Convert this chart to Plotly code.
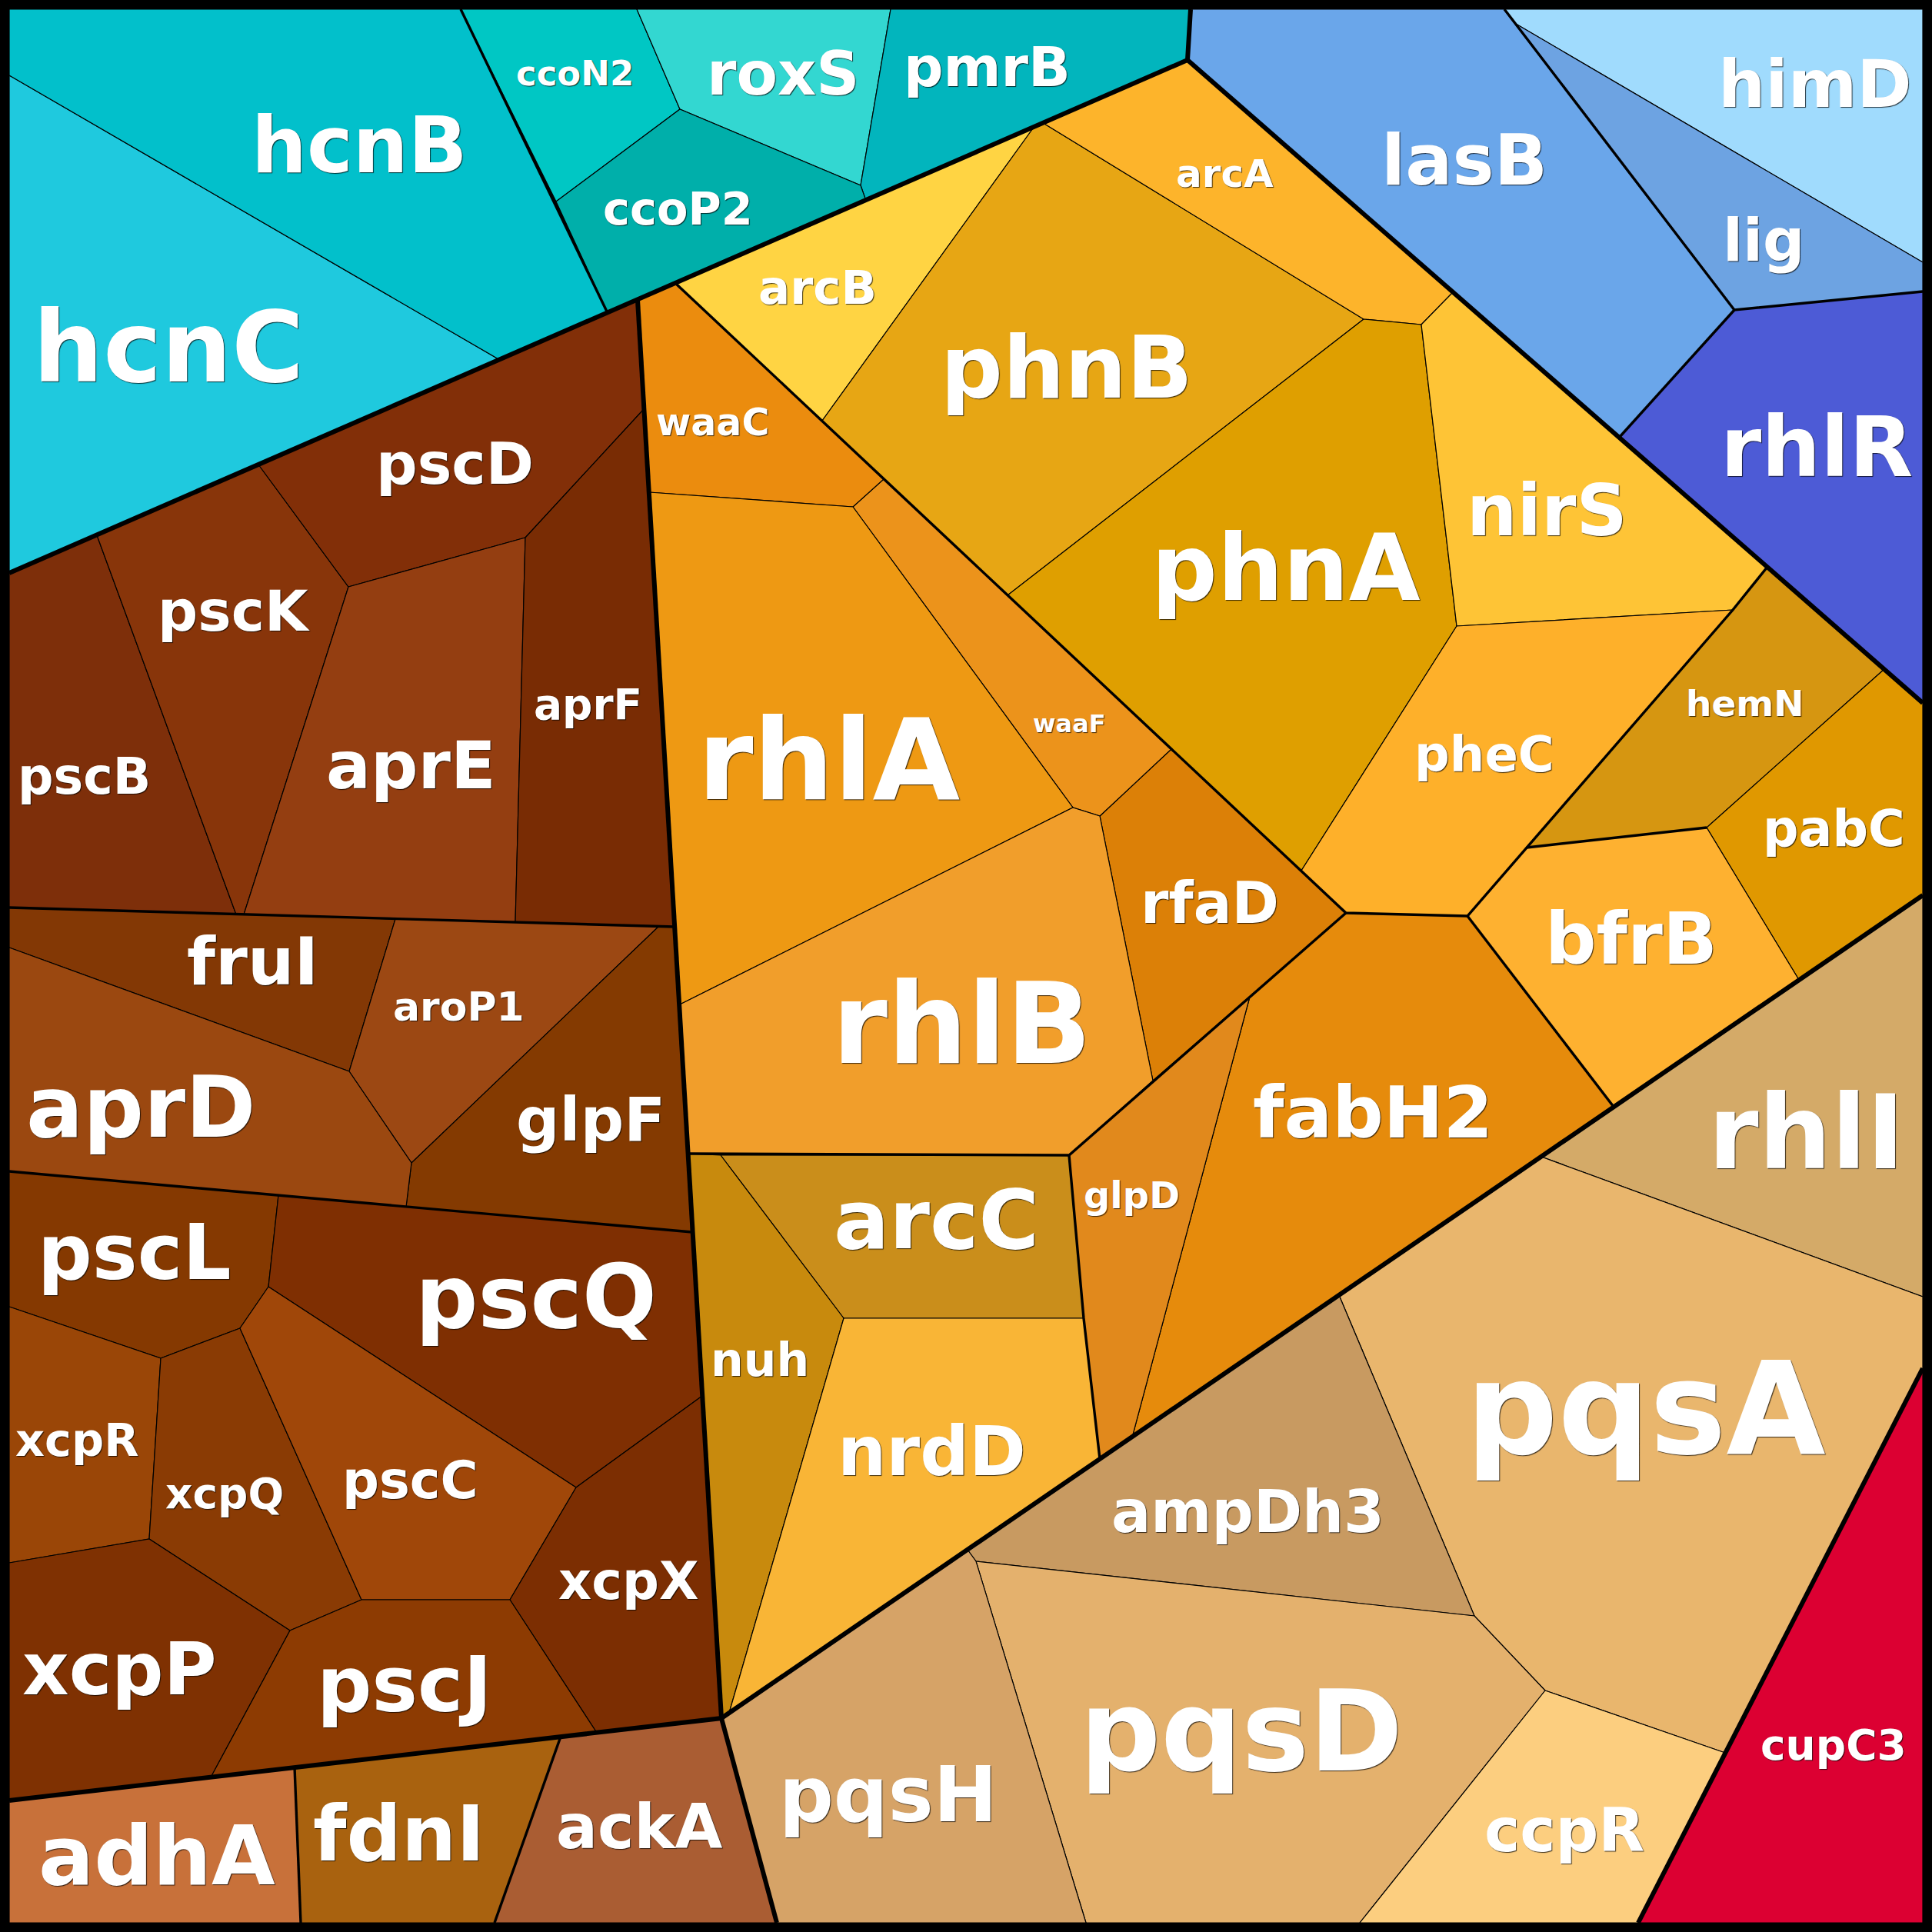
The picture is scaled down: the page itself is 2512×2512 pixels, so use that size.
import plotly.graph_objects as go

# ---- categories (genes) ----
genes = ["hcnC", "hcnB", "ccoN2", "roxS", "pmrB", "ccoP2",
         "lasB", "himD", "lig", "rhlR",
         "arcB", "phnB", "arcA", "phnA", "nirS", "pheC", "hemN", "pabC", "bfrB",
         "fabH2", "rfaD", "glpD", "waaF", "waaC", "rhlA", "rhlB", "arcC", "nuh", "nrdD",
         "pscB", "pscK", "pscD", "aprE", "aprF", "fruI", "aroP1", "glpF", "aprD",
         "pscL", "pscQ", "xcpR", "xcpQ", "pscC", "xcpX", "xcpP", "pscJ",
         "adhA", "fdnI", "ackA",
         "rhlI", "pqsA", "ampDh3", "pqsD", "pqsH", "ccpR", "cupC3"]

# ---- cell geometry (pixel space of the 2512 canvas) ----
cells = {
    "hcnC": [(12, 98), (650, 468), (12, 745)],
    "hcnB": [(12, 12), (599, 12), (790, 407), (650, 468), (12, 98)],
    "ccoN2": [(599, 12), (828, 12), (884, 142), (723, 262)],
    "ccoP2": [(723, 262), (884, 142), (1119, 241), (1126, 261), (790, 407)],
    "roxS": [(828, 12), (1158, 12), (1119, 241), (884, 142)],
    "pmrB": [(1158, 12), (1548, 12), (1544, 78), (1126, 261), (1119, 241)],
    "lasB": [(1548, 12), (1956, 12), (1971, 31), (2255, 403), (2106, 568), (1544, 78)],
    "lig": [(1971, 31), (2500, 341), (2500, 379), (2255, 403)],
    "himD": [(1956, 12), (2500, 12), (2500, 341), (1971, 31)],
    "rhlR": [(2255, 403), (2500, 379), (2500, 914), (2106, 568)],
    "arcB": [(879, 369), (1343, 167), (1069, 547)],
    "phnB": [(1343, 167), (1358, 161), (1773, 415), (1310, 774), (1069, 547)],
    "arcA": [(1358, 161), (1544, 78), (1889, 380), (1848, 422), (1773, 415)],
    "phnA": [(1773, 415), (1848, 422), (1894, 814), (1692, 1132), (1310, 774)],
    "nirS": [(1848, 422), (1889, 380), (2298, 737), (2253, 793), (1894, 814)],
    "pheC": [(1894, 814), (2253, 793), (1985, 1102), (1908, 1191), (1750, 1187), (1692, 1132)],
    "hemN": [(2253, 793), (2298, 737), (2450, 870), (2219, 1076), (1985, 1102)],
    "pabC": [(2450, 870), (2500, 914), (2500, 1164), (2339, 1274), (2219, 1076)],
    "bfrB": [(1985, 1102), (2219, 1076), (2339, 1274), (2098, 1439), (1908, 1191)],
    "fabH2": [(1625, 1296), (1750, 1187), (1908, 1191), (2098, 1439), (1472, 1869)],
    "rfaD": [(1523, 974), (1750, 1187), (1499, 1405), (1430, 1061)],
    "glpD": [(1390, 1502), (1625, 1296), (1472, 1869), (1430, 1897), (1409, 1714)],
    "waaF": [(1149, 623), (1523, 974), (1430, 1061), (1395, 1050), (1109, 659)],
    "waaC": [(829, 390), (879, 369), (1069, 547), (1149, 623), (1109, 659), (844, 640)],
    "rhlA": [(844, 640), (1109, 659), (1395, 1050), (884, 1306)],
    "rhlB": [(884, 1306), (1395, 1050), (1430, 1061), (1499, 1405), (1390, 1502), (895, 1500)],
    "arcC": [(937, 1502), (1390, 1502), (1409, 1714), (1097, 1714)],
    "nuh": [(895, 1500), (937, 1502), (1097, 1714), (948, 2227), (938, 2234)],
    "nrdD": [(1097, 1714), (1409, 1714), (1430, 1897), (948, 2227)],
    "pscB": [(12, 745), (126, 696), (307, 1189), (12, 1180)],
    "pscK": [(126, 696), (336, 604), (453, 763), (317, 1189), (307, 1189)],
    "pscD": [(336, 604), (829, 390), (837, 532), (683, 699), (453, 763)],
    "aprE": [(453, 763), (683, 699), (670, 1199), (317, 1189)],
    "aprF": [(683, 699), (837, 532), (877, 1205), (670, 1199)],
    "fruI": [(12, 1180), (514, 1195), (454, 1393), (12, 1232)],
    "aroP1": [(514, 1195), (857, 1204), (535, 1512), (454, 1393)],
    "glpF": [(857, 1204), (877, 1205), (900, 1602), (528, 1569), (535, 1512)],
    "aprD": [(12, 1232), (454, 1393), (535, 1512), (528, 1569), (12, 1523)],
    "pscL": [(12, 1523), (362, 1554), (349, 1673), (312, 1727), (209, 1766), (12, 1699)],
    "pscQ": [(362, 1554), (900, 1602), (913, 1815), (749, 1934), (349, 1673)],
    "xcpR": [(12, 1699), (209, 1766), (194, 2001), (12, 2032)],
    "xcpQ": [(209, 1766), (312, 1727), (470, 2080), (377, 2120), (194, 2001)],
    "pscC": [(349, 1673), (749, 1934), (663, 2080), (470, 2080), (312, 1727)],
    "xcpX": [(749, 1934), (913, 1815), (938, 2234), (776, 2253), (663, 2080)],
    "xcpP": [(12, 2032), (194, 2001), (377, 2120), (274, 2311), (12, 2341)],
    "pscJ": [(377, 2120), (470, 2080), (663, 2080), (776, 2253), (274, 2311)],
    "adhA": [(12, 2341), (383, 2298), (391, 2500), (12, 2500)],
    "fdnI": [(383, 2298), (729, 2258), (643, 2500), (391, 2500)],
    "ackA": [(729, 2258), (938, 2234), (1010, 2500), (643, 2500)],
    "rhlI": [(2004, 1504), (2500, 1164), (2500, 1686)],
    "pqsA": [(1741, 1684), (2004, 1504), (2500, 1686), (2500, 1779), (2243, 2279), (2009, 2198), (1917, 2101)],
    "ampDh3": [(1258, 2015), (1741, 1684), (1917, 2101), (1269, 2030)],
    "pqsD": [(1269, 2030), (1917, 2101), (2009, 2198), (1768, 2500), (1412, 2500)],
    "pqsH": [(938, 2234), (1258, 2015), (1269, 2030), (1412, 2500), (1010, 2500)],
    "ccpR": [(2009, 2198), (2243, 2279), (2130, 2500), (1768, 2500)],
    "cupC3": [(2500, 1779), (2500, 2500), (2130, 2500)],
}

# group boundaries (top level = thick, sub level = medium)
top_level_borders = [
    [(12, 745), (1544, 78), (1548, 12)],
    [(1544, 78), (2500, 914)],
    [(829, 390), (938, 2234)],
    [(2500, 1164), (938, 2234), (12, 2341)],
    [(938, 2234), (1010, 2500)],
    [(2500, 1779), (2130, 2500)],
]
sub_level_borders = [
    [(599, 12), (790, 407)],
    [(1956, 12), (2255, 403), (2500, 379)],
    [(2255, 403), (2106, 568)],
    [(12, 1180), (877, 1205)],
    [(12, 1523), (900, 1602)],
    [(383, 2298), (391, 2500)],
    [(729, 2258), (643, 2500)],
    [(879, 369), (1750, 1187), (1908, 1191), (2253, 793), (2298, 737)],
    [(1985, 1102), (2219, 1076)],
    [(1908, 1191), (2098, 1439)],
    [(1750, 1187), (1390, 1502), (895, 1500)],
    [(1390, 1502), (1409, 1714), (1430, 1897)],
]

# label placement: (center x, baseline y, font size)
labels = {
    "hcnC": (219, 496, 128), "hcnB": (467, 224, 101), "ccoN2": (747, 111, 45),
    "roxS": (1018, 123, 78), "pmrB": (1283, 112, 72), "ccoP2": (881, 292, 59),
    "lasB": (1904, 240, 91), "himD": (2360, 139, 86), "lig": (2293, 339, 76),
    "rhlR": (2362, 619, 108),
    "arcA": (1592, 243, 50), "arcB": (1063, 395, 61), "phnB": (1387, 517, 113),
    "waaC": (926, 566, 49), "phnA": (1672, 780, 120), "nirS": (2011, 696, 92),
    "pheC": (1930, 1003, 64), "hemN": (2269, 931, 47), "pabC": (2384, 1100, 65),
    "bfrB": (2121, 1253, 93), "fabH2": (1785, 1479, 93), "rfaD": (1573, 1200, 74),
    "waaF": (1390, 952, 32), "rhlA": (1078, 1039, 147), "rhlB": (1250, 1382, 146),
    "arcC": (1217, 1623, 107), "glpD": (1471, 1571, 48), "nuh": (988, 1789, 60),
    "nrdD": (1211, 1918, 89),
    "ampDh3": (1622, 1992, 76), "pqsA": (2140, 1890, 167), "rhlI": (2348, 1519, 133),
    "pqsD": (1614, 2302, 147), "ccpR": (2034, 2407, 78), "cupC3": (2384, 2288, 55),
    "pqsH": (1155, 2368, 99),
    "ackA": (831, 2403, 80), "fdnI": (519, 2419, 100), "adhA": (204, 2450, 107),
    "xcpP": (155, 2203, 94), "pscJ": (526, 2225, 100), "xcpX": (817, 2079, 67),
    "pscC": (533, 1948, 67), "xcpQ": (292, 1961, 55), "xcpR": (100, 1893, 59),
    "pscQ": (697, 1726, 114), "pscL": (175, 1663, 99), "aprD": (183, 1478, 110),
    "fruI": (328, 1280, 85), "aroP1": (596, 1327, 52), "glpF": (768, 1483, 79),
    "pscB": (109, 1032, 65), "aprE": (534, 1025, 86), "aprF": (764, 935, 55),
    "pscK": (304, 820, 73), "pscD": (591, 629, 75),
}

fill_colors = {
    "hcnC": "#1FC9DE", "hcnB": "#02C0CB", "ccoN2": "#00C7C4", "roxS": "#33D7D1",
    "pmrB": "#02B5BD", "ccoP2": "#00AFAA",
    "lasB": "#6AA6EA", "lig": "#6DA3E2", "himD": "#A0DBFD", "rhlR": "#4D5BD6",
    "arcB": "#FFD443", "phnB": "#E7A614", "arcA": "#FDB42B", "phnA": "#DF9F00",
    "nirS": "#FEC436", "pheC": "#FEB02A", "hemN": "#D69611", "pabC": "#E09800",
    "bfrB": "#FEB130", "fabH2": "#E68B0C", "rfaD": "#DC8007", "glpD": "#E1891C",
    "waaF": "#EC931B", "waaC": "#EB8C0E", "rhlA": "#EE9913", "rhlB": "#F19E2B",
    "arcC": "#CA8E1B", "nuh": "#C88A0D", "nrdD": "#F9B536",
    "pscD": "#822F08", "pscK": "#88350A", "pscB": "#7E2F0A", "aprE": "#943E11",
    "aprF": "#792C04", "fruI": "#833805", "aroP1": "#9C4813", "aprD": "#9B4810",
    "glpF": "#843A01", "pscL": "#853901", "pscQ": "#7F2F02", "xcpR": "#9A4607",
    "xcpQ": "#8A3B04", "pscC": "#A04709", "xcpX": "#7C2E02", "xcpP": "#7F3102",
    "pscJ": "#8D3B02",
    "adhA": "#C8713A", "fdnI": "#A9620F", "ackA": "#AA5D33",
    "rhlI": "#D4AA68", "pqsA": "#E9B66D", "ampDh3": "#C89A61", "pqsD": "#E4B16D",
    "pqsH": "#D6A367", "ccpR": "#FCCE7F", "cupC3": "#DC0032",
}

fig = go.Figure()

for g in genes:
    pts = cells[g] + [cells[g][0]]
    fig.add_trace(go.Scatter(
        x=[p[0] for p in pts], y=[p[1] for p in pts],
        mode="lines", fill="toself", fillcolor=fill_colors[g],
        line=dict(color="black", width=1.2),
        hoverinfo="text", text=g, showlegend=False))

for seg in sub_level_borders:
    fig.add_trace(go.Scatter(
        x=[p[0] for p in seg], y=[p[1] for p in seg], mode="lines",
        line=dict(color="black", width=3.4), hoverinfo="skip", showlegend=False))

for seg in top_level_borders:
    fig.add_trace(go.Scatter(
        x=[p[0] for p in seg], y=[p[1] for p in seg], mode="lines",
        line=dict(color="black", width=6), hoverinfo="skip", showlegend=False))

annotations = []
for g in genes:
    cx, base, size = labels[g]
    annotations.append(dict(
        x=cx, y=base - 0.346 * size, xref="x", yref="y", text=g,
        showarrow=False, xanchor="center", yanchor="middle",
        font=dict(family="DejaVu Sans", size=size, color="white", weight="bold",
                  shadow="1px 1px 1px rgba(0,0,0,0.75)")))

fig.update_layout(
    width=2512, height=2512, autosize=False,
    margin=dict(l=0, r=0, t=0, b=0, pad=0),
    paper_bgcolor="black", plot_bgcolor="black",
    xaxis=dict(range=[0, 2512], visible=False, fixedrange=True),
    yaxis=dict(range=[2512, 0], visible=False, fixedrange=True),
    annotations=annotations,
    showlegend=False,
)

page_fix = ("document.body.style.margin='0px';"
            "document.body.style.padding='0px';"
            "document.body.style.background='black';"
            "document.documentElement.style.overflow='hidden';")

fig.write_html("out.html", post_script=page_fix,
               config={"displayModeBar": False, "staticPlot": True})
